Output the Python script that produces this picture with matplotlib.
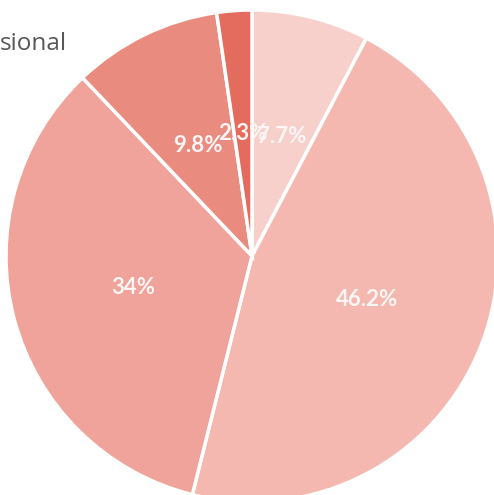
import matplotlib
matplotlib.use('Agg')
import matplotlib.pyplot as plt

# slice shares, clockwise from 12 o'clock
shares = [7.7, 46.2, 34.0, 9.8, 2.3]
colors = ['#f7d0cc', '#f5b8b0', '#f0a39a', '#ea8b80', '#e46c5e']
title_tail = 'sional'  # the rest of the title is cut off on the left


def main():
    fig = plt.figure(figsize=(4.94, 4.95), dpi=100)
    ax = fig.add_axes([0, 0, 1, 1])

    labels = [f'{v:g}%' for v in shares]
    wedges, texts = ax.pie(
        shares, colors=colors, labels=labels, labeldistance=0.5,
        startangle=90, counterclock=False,
        center=(252, 239), radius=246,
        wedgeprops=dict(edgecolor='white', linewidth=2.5),
        textprops=dict(color='#fdf6f4', fontsize=16, fontweight='bold',
                       family='Lato', ha='center', va='center'),
    )
    for t in texts:
        t.set_ha('center')

    # pie() resets the limits, so set them afterwards (pixel units)
    ax.set_xlim(0, 494)
    ax.set_ylim(0, 495)
    ax.set_aspect('equal')
    ax.axis('off')

    fig.text(0.0, 0.912, title_tail, fontsize=17.5, color='#575757',
             family='Open Sans', ha='left', va='center')

    fig.savefig('out.png', dpi=100)


if __name__ == '__main__':
    main()
